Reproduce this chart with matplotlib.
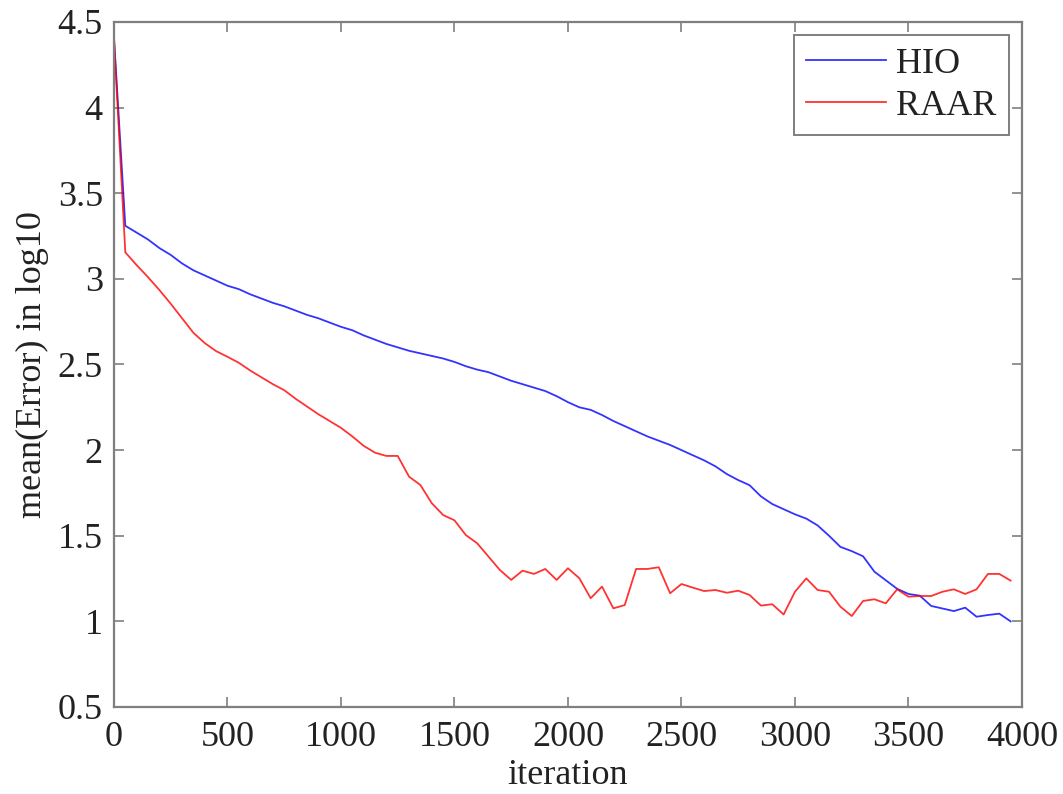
import numpy as np
import matplotlib

matplotlib.use("Agg")
import matplotlib.pyplot as plt


# iteration index, one sample every 50 iterations
iterations = np.arange(0, 4000, 50)

hio_error = [
    4.41, 3.31, 3.27, 3.23, 3.18, 3.14, 3.09, 3.05, 3.02, 2.99,
    2.96, 2.94, 2.91, 2.885, 2.86, 2.84, 2.815, 2.79, 2.77, 2.745,
    2.72, 2.70, 2.67, 2.645, 2.62, 2.60, 2.58, 2.565, 2.55, 2.535,
    2.515, 2.49, 2.47, 2.455, 2.43, 2.405, 2.385, 2.365, 2.345, 2.315,
    2.28, 2.25, 2.235, 2.205, 2.17, 2.14, 2.11, 2.08, 2.055, 2.03,
    2.00, 1.97, 1.94, 1.905, 1.86, 1.825, 1.795, 1.73, 1.685, 1.655,
    1.625, 1.60, 1.56, 1.50, 1.435, 1.41, 1.38, 1.29, 1.24, 1.19,
    1.16, 1.15, 1.09, 1.075, 1.06, 1.08, 1.027, 1.037, 1.045, 1.00,
]

raar_error = [
    4.41, 3.155, 3.08, 3.01, 2.935, 2.855, 2.77, 2.685, 2.625, 2.578,
    2.545, 2.51, 2.465, 2.425, 2.385, 2.35, 2.30, 2.255, 2.21, 2.17,
    2.13, 2.08, 2.025, 1.985, 1.966, 1.966, 1.845, 1.796, 1.69, 1.621,
    1.59, 1.504, 1.456, 1.378, 1.30, 1.242, 1.296, 1.277, 1.306, 1.242,
    1.31, 1.252, 1.135, 1.203, 1.076, 1.095, 1.306, 1.306, 1.316, 1.164,
    1.218, 1.197, 1.177, 1.183, 1.167, 1.179, 1.154, 1.092, 1.10, 1.04,
    1.173, 1.251, 1.183, 1.173, 1.086, 1.031, 1.119, 1.129, 1.105, 1.187,
    1.144, 1.148, 1.148, 1.173, 1.187, 1.160, 1.187, 1.277, 1.277, 1.238,
]

x_ticks = [0, 500, 1000, 1500, 2000, 2500, 3000, 3500, 4000]
y_ticks = [0.5, 1, 1.5, 2, 2.5, 3, 3.5, 4, 4.5]

AXIS_GREY = "#7f7f7f"
TEXT_COLOR = "#222222"

plt.rcParams["font.family"] = ["Liberation Serif", "DejaVu Serif"]
plt.rcParams["font.size"] = 26

fig = plt.figure(figsize=(10.63, 7.94), dpi=100)
ax = fig.add_axes([0.1072, 0.1096, 0.8542, 0.8627])

ax.plot(iterations, hio_error, color="#0000ff", lw=1.3, alpha=0.8, label="HIO")
ax.plot(iterations, raar_error, color="#ff0000", lw=1.3, alpha=0.8, label="RAAR")

ax.set_xlim(0, 4000)
ax.set_ylim(0.5, 4.5)
ax.set_xticks(x_ticks)
ax.set_xticklabels([str(t) for t in x_ticks])
ax.set_yticks(y_ticks)
ax.set_yticklabels([f"{t:g}" for t in y_ticks])

ax.tick_params(direction="in", length=7, width=1.2, color=AXIS_GREY,
               labelcolor=TEXT_COLOR, top=True, right=True)
ax.tick_params(axis="x", pad=10)
ax.tick_params(axis="y", pad=8)
for spine in ax.spines.values():
    spine.set_color(AXIS_GREY)
    spine.set_linewidth(1.6)

ax.set_xlabel("iteration", color=TEXT_COLOR, labelpad=4)
ax.set_ylabel("mean(Error) in log10", color=TEXT_COLOR, labelpad=6)

leg = ax.legend(loc="upper right", handlelength=2.2, handletextpad=0.3,
                borderaxespad=0.35, fancybox=False, framealpha=1,
                edgecolor=AXIS_GREY, labelspacing=0.25, borderpad=0.35)
leg.get_frame().set_linewidth(1.4)
for text in leg.get_texts():
    text.set_color(TEXT_COLOR)

fig.savefig("out.png", dpi=100)
